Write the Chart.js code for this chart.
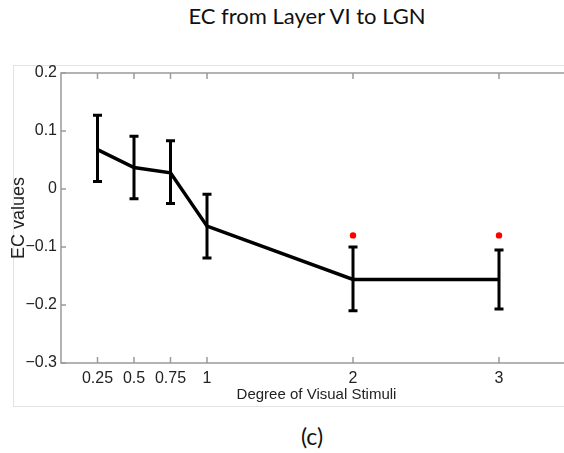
<!DOCTYPE html>
<html>
<head>
<meta charset="utf-8">
<title>EC from Layer VI to LGN</title>
<script src="https://cdn.jsdelivr.net/npm/chart.js@4"></script>
<style>
  html, body { margin: 0; padding: 0; width: 564px; height: 453px; overflow: hidden; background: #fff; }
  #frame { position: absolute; left: 13px; top: 65px; width: 620px; height: 342px; border: 1px solid #e2e2e2; box-sizing: border-box; }
  #title { position: absolute; left: 0; top: 3px; width: 614px; text-align: center; font-family: Lato, "Open Sans", sans-serif; font-size: 22px; line-height: 26px; color: #111; }
  #caption { position: absolute; left: 0; top: 422px; width: 624px; text-align: center; font-family: Lato, "Open Sans", sans-serif; font-size: 23px; line-height: 28px; color: #111; }
  #plot { position: absolute; left: 0; top: 0; }
</style>
</head>
<body>
<div id="frame"></div>
<div id="title">EC from Layer VI to LGN</div>
<div id="caption">(c)</div>
<canvas id="plot" width="620" height="453"></canvas>
<script>
// data
const xValues = [0.25, 0.5, 0.75, 1, 2, 3];
const ecMean  = [0.068, 0.037, 0.028, -0.064, -0.156, -0.156];
const ecUpper = [0.127, 0.091, 0.083, -0.009, -0.100, -0.105];
const ecLower = [0.013, -0.017, -0.025, -0.119, -0.210, -0.207];
// red markers above the last two points
const starX = [2, 3];
const starY = [-0.080, -0.080];
// axis ticks
const xTicks = [0.25, 0.5, 0.75, 1, 2, 3];
const yTicks = [-0.3, -0.2, -0.1, 0, 0.1, 0.2];

const tickFont = { family: "'Liberation Sans', Arial, sans-serif", size: 16 };
const titleFont = { family: "'Liberation Sans', Arial, sans-serif", size: 15 };
const axisGray = '#9a9a9a';

function fmt(v) {
  return v < 0 ? '\u2212' + String(Math.abs(v)) : String(v);
}

// vertical error bars with caps
const errorBars = {
  id: 'errorBars',
  afterDatasetsDraw(chart) {
    const ctx = chart.ctx, xs = chart.scales.x, ys = chart.scales.y;
    ctx.save();
    ctx.strokeStyle = '#000';
    ctx.lineWidth = 3;
    xValues.forEach((v, i) => {
      const px = xs.getPixelForValue(v);
      const top = ys.getPixelForValue(ecUpper[i]);
      const bot = ys.getPixelForValue(ecLower[i]);
      ctx.beginPath();
      ctx.moveTo(px, top); ctx.lineTo(px, bot);
      ctx.moveTo(px - 4.5, top); ctx.lineTo(px + 4.5, top);
      ctx.moveTo(px - 4.5, bot); ctx.lineTo(px + 4.5, bot);
      ctx.stroke();
    });
    ctx.restore();
  }
};

// box around the plot with inward tick marks (matlab style)
const boxTicks = {
  id: 'boxTicks',
  afterDraw(chart) {
    const { ctx, chartArea: a, scales: { x, y } } = chart;
    ctx.save();
    ctx.strokeStyle = axisGray;
    ctx.lineWidth = 1.5;
    ctx.strokeRect(a.left, a.top, a.right - a.left, a.bottom - a.top);
    ctx.beginPath();
    xTicks.forEach(v => {
      const px = x.getPixelForValue(v);
      ctx.moveTo(px, a.bottom); ctx.lineTo(px, a.bottom - 6);
      ctx.moveTo(px, a.top); ctx.lineTo(px, a.top + 6);
    });
    yTicks.forEach(v => {
      const py = y.getPixelForValue(v);
      ctx.moveTo(a.left, py); ctx.lineTo(a.left + 5, py);
      ctx.moveTo(a.right, py); ctx.lineTo(a.right - 5, py);
    });
    ctx.stroke();
    ctx.restore();
  }
};

const ecChart = new Chart(document.getElementById('plot'), {
  type: 'line',
  data: {
    datasets: [
      {
        label: 'EC',
        data: xValues.map((x, i) => ({ x: x, y: ecMean[i] })),
        borderColor: '#000',
        borderWidth: 3.5,
        pointRadius: 0,
        tension: 0
      },
      {
        type: 'scatter',
        label: 'significant',
        data: starX.map((x, i) => ({ x: x, y: starY[i] })),
        backgroundColor: '#ff0000',
        borderWidth: 0,
        pointRadius: 3.2
      }
    ]
  },
  options: {
    responsive: false,
    animation: false,
    layout: { padding: { left: 0, top: 73, right: 48, bottom: 0 } },
    plugins: { legend: { display: false }, tooltip: { enabled: false } },
    scales: {
      x: {
        type: 'linear',
        min: 0,
        max: 3.5,
        afterBuildTicks: s => { s.ticks = xTicks.map(v => ({ value: v })); },
        afterFit: s => { s.height = 90; },
        grid: { display: false, drawTicks: false },
        border: { display: false },
        ticks: { padding: 6, color: '#222', font: tickFont, maxRotation: 0, autoSkip: false, callback: v => fmt(v) },
        title: { display: true, text: 'Degree of Visual Stimuli', color: '#222', font: titleFont, padding: { top: 0, bottom: 49 } }
      },
      y: {
        min: -0.3,
        max: 0.2,
        afterBuildTicks: s => { s.ticks = yTicks.map(v => ({ value: v })); },
        afterFit: s => { s.width = 61; },
        grid: { display: false, drawTicks: false },
        border: { display: false },
        ticks: { padding: 4, color: '#222', font: tickFont, callback: v => fmt(v) },
        title: { display: true, text: 'EC values', color: '#222', font: { family: "'Liberation Sans', Arial, sans-serif", size: 18 }, padding: { top: 8, bottom: 0 } }
      }
    }
  },
  plugins: [errorBars, boxTicks]
});
</script>
</body>
</html>
